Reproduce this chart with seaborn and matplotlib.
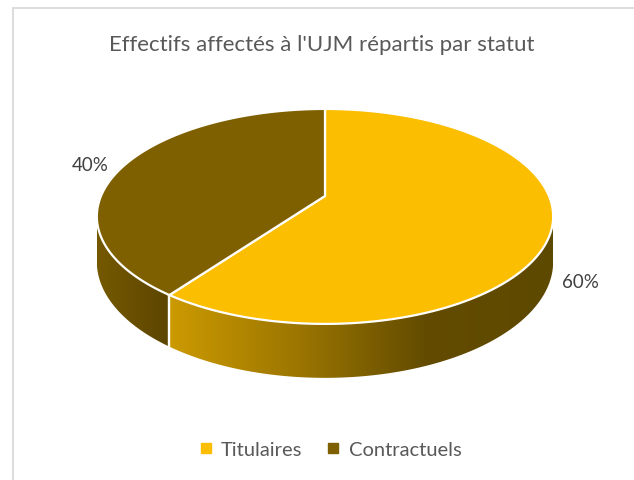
import numpy as np
import matplotlib
matplotlib.use("Agg")
import matplotlib.pyplot as plt
import seaborn as sns
from matplotlib.transforms import Transform
from matplotlib.path import Path
from matplotlib.patches import PathPatch
from matplotlib.lines import Line2D

# ---- data ----
categories = ["Titulaires", "Contractuels"]
values = [60, 40]
pct_labels = ["60%", "40%"]
title = "Effectifs affectés à l'UJM répartis par statut"

# ---- styles ----
top_colors = ["#FBBE00", "#7F6000"]
side_colors = [["#CC9A00", "#9C7600", "#634C00", "#5E4900"],
               ["#755900", "#5C4500"]]

sns.set_theme(style="white")
plt.rcParams["font.family"] = ["Lato", "DejaVu Sans"]

W, HP = 634, 481
CX, CY, A, B, K, DEPTH = 325, 197, 224, 103.6, -0.19, 43.7


def project(x, y, drop=0.0):
    x = np.asarray(x, float)
    y = np.asarray(y, float)
    v = -y
    w = 1 + K * v
    return CX + A * x / w, CY + (B * v + drop) / w


class Persp(Transform):
    input_dims = output_dims = 2

    def transform_non_affine(self, values):
        values = np.asarray(values, float).reshape(-1, 2)
        X, Y = project(values[:, 0], values[:, 1])
        return np.column_stack([X, Y])

    def transform_path_non_affine(self, path):
        pts = []
        for seg, code in path.iter_bezier():
            n = 2 if seg.degree <= 1 else 60
            pts.append(seg(np.linspace(0, 1, n)))
        pts = np.vstack(pts)
        pts = np.vstack([pts, pts[:1], pts[:1]])
        out = self.transform_non_affine(pts)
        return Path(out, closed=True)


fig = plt.figure(figsize=(W / 100, HP / 100), dpi=100)
ax = fig.add_axes([0, 0, 1, 1])

wedges, _ = ax.pie(values, startangle=90, counterclock=False, colors=top_colors,
                   wedgeprops=dict(edgecolor="white", linewidth=1.6, zorder=3))
persp = Persp()
for wdg in wedges:
    wdg.set_transform(persp + ax.transData)

delta = np.degrees(np.arcsin(-K))
vis_lo, vis_hi = 180 + delta, 360 - delta

for wdg, cols in zip(wedges, side_colors):
    t1, t2 = wdg.theta1, wdg.theta2
    for shift in (-360, 0, 360):
        lo = max(t1 + shift, vis_lo)
        hi = min(t2 + shift, vis_hi)
        if hi <= lo:
            continue
        th = np.radians(np.linspace(lo, hi, 200))
        xt, yt = project(np.cos(th), np.sin(th))
        xb, yb = project(np.cos(th), np.sin(th), DEPTH)
        poly = np.column_stack([np.r_[xt, xb[::-1], xt[:1]], np.r_[yt, yb[::-1], yt[:1]]])
        patch = PathPatch(Path(poly, closed=True), facecolor="none", edgecolor="none")
        ax.add_patch(patch)
        cmap = sns.blend_palette(cols, as_cmap=True)
        grad = np.linspace(0, 1, 256)[None, :]
        im = ax.imshow(grad, cmap=cmap, aspect="auto", interpolation="bilinear",
                       extent=(poly[:, 0].min(), poly[:, 0].max(), poly[:, 1].max(), poly[:, 1].min()),
                       zorder=1)
        im.set_clip_path(patch)
    # seam lines at slice boundaries on the visible front
    for ang in (t1, t2):
        a = ang % 360
        if vis_lo < a < vis_hi:
            r = np.radians(a)
            x0, y0 = project(np.cos(r), np.sin(r))
            x1, y1 = project(np.cos(r), np.sin(r), DEPTH)
            ax.plot([x0, x1], [y0, y1], color="white", lw=1.6, zorder=2,
                    solid_capstyle="butt")

# percentage labels
for wdg, lab in zip(wedges, pct_labels):
    mid = np.radians((wdg.theta1 + wdg.theta2) / 2)
    front = np.sin(mid) < 0
    r = 1.12 if front else 1.18
    drop = DEPTH if front else 0.1 * DEPTH
    lx, ly = project(r * np.cos(mid), r * np.sin(mid), drop)
    ax.text(lx, ly, lab, ha="center", va="center", fontsize=13.5, color="#404040")

ax.set_aspect("auto")
ax.set_xlim(0, W)
ax.set_ylim(HP, 0)
ax.axis("off")

# chart frame (left and top edges visible)
ax.plot([13, 13], [9, HP + 5], color="#D9D9D9", lw=1.3, zorder=0, clip_on=False)
ax.plot([13, W + 5], [9, 9], color="#D9D9D9", lw=1.3, zorder=0, clip_on=False)

ax.text(322, 45, title, ha="center", va="center", fontsize=16, color="#595959")

handles = [Line2D([], [], marker="s", linestyle="", color=c, markersize=6.5) for c in top_colors]
fig.legend(handles, categories, loc="center", bbox_to_anchor=(328.5 / W, 1 - 450 / HP),
           ncol=2, frameon=False, fontsize=14.5, labelcolor="#595959",
           handletextpad=0.25, columnspacing=1.05, handlelength=1.0)

fig.savefig("out.png", dpi=100)
